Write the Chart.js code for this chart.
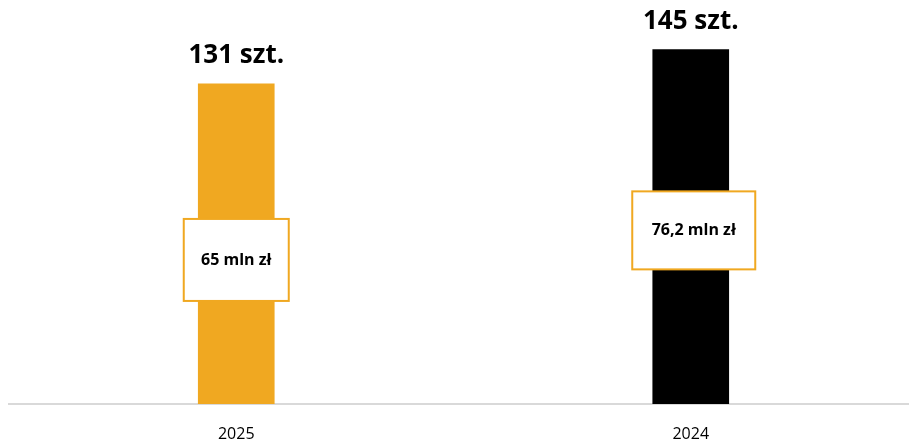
<!DOCTYPE html>
<html>
<head>
<meta charset="utf-8">
<script src="https://cdn.jsdelivr.net/npm/chart.js@4.4.1/dist/chart.umd.min.js"></script>
<style>
html,body{margin:0;padding:0;background:#fff;overflow:hidden;width:909px;height:444px;}
canvas{display:block;}
</style>
</head>
<body>
<canvas id="c" width="918" height="444"></canvas>
<script>
const categories = ['2025', '2024'];
const units = [131, 145];
const topLabels = ['131 szt.', '145 szt.'];
const valueLabels = ['65 mln zł', '76,2 mln zł'];
const barColors = ['#F0A821', '#000000'];

const boxCenterFraction = [0.45, 0.49];
const boxSize = [[105, 82], [123, 78]];
const boxShift = [0, 3];

const labelPlugin = {
  id: 'labels',
  afterDatasetsDraw(chart) {
    const ctx = chart.ctx;
    const meta = chart.getDatasetMeta(0);
    const y = chart.scales.y;
    meta.data.forEach((bar, i) => {
      ctx.save();
      ctx.fillStyle = '#000';
      ctx.font = 'bold 26px "Open Sans"';
      ctx.textAlign = 'center';
      ctx.textBaseline = 'alphabetic';
      ctx.fillText(topLabels[i], bar.x, bar.y - 21);
      const cy = y.getPixelForValue(units[i] * boxCenterFraction[i]);
      const cx = bar.x + boxShift[i];
      const w = boxSize[i][0], h = boxSize[i][1];
      ctx.fillStyle = '#fff';
      ctx.fillRect(cx - w / 2, cy - h / 2, w, h);
      ctx.strokeStyle = '#F0A821';
      ctx.lineWidth = 2;
      ctx.strokeRect(cx - w / 2, cy - h / 2, w, h);
      ctx.fillStyle = '#000';
      ctx.font = 'bold 16px "Open Sans"';
      ctx.textBaseline = 'middle';
      ctx.fillText(valueLabels[i], cx, cy);
      ctx.restore();
    });
  }
};

new Chart(document.getElementById('c'), {
  type: 'bar',
  data: {
    labels: categories,
    datasets: [{
      data: units,
      backgroundColor: barColors,
      barThickness: 76,
      categoryPercentage: 1
    }]
  },
  options: {
    responsive: false,
    animation: false,
    events: [],
    layout: { padding: { left: 9, right: 0, top: 13, bottom: 0 } },
    plugins: { legend: { display: false }, tooltip: { enabled: false } },
    scales: {
      x: {
        grid: { display: false, drawTicks: false },
        border: { display: true, color: '#D9D9D9', width: 2 },
        ticks: { color: '#000', font: { family: 'Open Sans', size: 16 }, padding: 21 },
        afterFit(s) { s.height = 40; }
      },
      y: {
        display: false,
        min: 0,
        max: 160
      }
    }
  },
  plugins: [labelPlugin]
});
</script>
</body>
</html>
